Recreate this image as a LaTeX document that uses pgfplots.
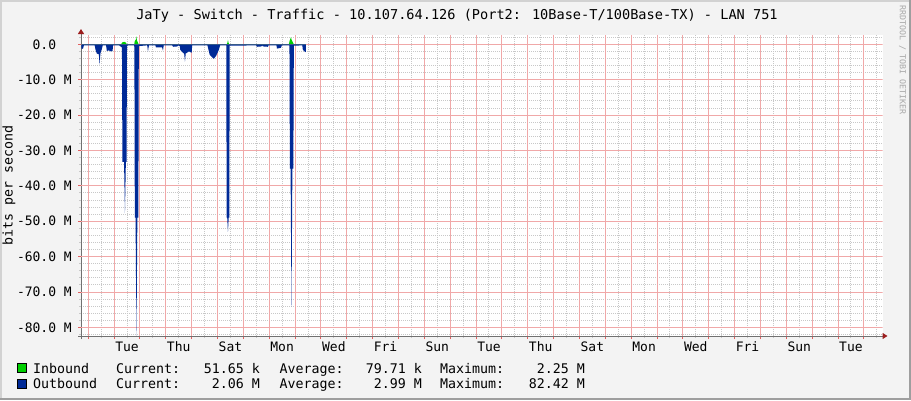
\documentclass[border=0pt]{standalone}
\usepackage{pgfplots}
\pgfplotsset{compat=1.18}
\usepackage{fontspec}
\setmainfont{DejaVu Sans Mono}
\usetikzlibrary{arrows.meta}
\definecolor{bg}{HTML}{F3F3F3}
\definecolor{shadea}{HTML}{D2D2D2}
\definecolor{shadeb}{HTML}{9E9E9E}
\definecolor{mgrid}{HTML}{F0A8A8}
\definecolor{mgridtick}{HTML}{E06060}
\definecolor{mingrid}{HTML}{C8C8C8}
\definecolor{axisgray}{HTML}{707070}
\definecolor{arrowred}{HTML}{9C1E1E}
\definecolor{ingreen}{HTML}{00CF00}
\definecolor{outblue}{HTML}{002A97}
\definecolor{wm}{HTML}{A8A8A8}
\begin{document}
\begin{tikzpicture}[x=1pt,y=1pt]
\fill[bg] (0,0) rectangle (911,400);
\fill[shadea] (0,0) rectangle (2,400);
\fill[shadea] (0,398) rectangle (911,400);
\fill[shadeb] (908.5,0) rectangle (911,400);
\fill[shadeb] (0,0) rectangle (911,2.5);
\begin{axis}[
  at={(81pt,64pt)}, anchor=south west,
  scale only axis, width=801.5pt, height=301pt,
  xmin=-0.28, xmax=30.72, ymin=-82.43, ymax=2.63,
  axis background/.style={fill=white},
  axis x line*=bottom, axis y line*=left,
  axis line style={draw=axisgray, line width=1pt},
  x axis line style={-{Triangle[length=5pt,width=6pt,color=arrowred]}, shorten >=-5pt, shorten <=-3pt},
  y axis line style={-{Triangle[length=5pt,width=6pt,color=arrowred]}, shorten >=-6pt, shorten <=-3pt},
  tick align=outside,
  major tick length=3pt, minor tick length=2pt,
  major tick style={draw=mgridtick, line width=1pt},
  minor tick style={draw=mingrid, line width=1pt},
  xtick={0,1,...,30}, xticklabels={},
  minor xtick={0.5,1.5,...,30.5},
  ytick={-80,-70,...,0},
  yticklabels={-80.0 M,-70.0 M,-60.0 M,-50.0 M,-40.0 M,-30.0 M,-20.0 M,-10.0 M,0.0\phantom{\ M}},
  minor ytick={-82,-78,-76,-74,-72,-68,-66,-64,-62,-58,-56,-54,-52,-48,-46,-44,-42,-38,-36,-34,-32,-28,-26,-24,-22,-18,-16,-14,-12,-8,-6,-4,-2,2},
  extra x ticks={1.5,3.5,...,29.5},
  extra x tick labels={Tue,Thu,Sat,Mon,Wed,Fri,Sun,Tue,Thu,Sat,Mon,Wed,Fri,Sun,Tue},
  extra x tick style={grid=none, major tick length=0pt,
    xticklabel style={anchor=base, inner sep=0pt, yshift=-15pt}},
  yticklabel style={anchor=east, inner sep=0pt, xshift=-6pt},
  tick label style={font=\fontsize{13}{15}\selectfont},
  grid=minor,
  every minor grid/.style={color=mingrid, line width=1pt, dash pattern=on 1pt off 1pt},
]
% major (daily / 10 M) grid lines in red
\pgfplotsinvokeforeach{0,1,...,30}{
  \draw[color=mgrid, line width=1pt] (axis cs:#1,-82.43) -- (axis cs:#1,2.63);
}
\pgfplotsinvokeforeach{-80,-70,...,0}{
  \draw[color=mgrid, line width=1pt] (axis cs:-0.28,#1) -- (axis cs:30.72,#1);
}
\addplot[fill=ingreen, draw=none] coordinates {
(-0.27,0.05) (1.28,0.05) (1.30,0.4) (1.33,0.6) (1.40,0.7) (1.45,0.5) (1.49,0.05)
(1.78,0.05) (1.80,0.9) (1.84,1.3) (1.865,2.25) (1.88,1.2) (1.92,0.5) (1.95,0.05)
(5.36,0.05) (5.39,0.6) (5.404,1.3) (5.42,0.6) (5.45,0.05)
(7.76,0.05) (7.79,1.0) (7.84,2.0) (7.87,1.2) (7.92,0.5) (7.95,0.05) (8.42,0.05)
} \closedcycle;
\addplot[fill=outblue, draw=none] coordinates {
(-0.270,-0.3) (-0.255,-1.3) (-0.200,-1.2) (-0.170,-0.3)
(0.250,-0.3) (0.280,-1.5) (0.330,-2.6) (0.410,-2.8) (0.440,-5.8) (0.470,-2.6) (0.520,-1.5) (0.560,-0.3)
(0.690,-0.3) (0.720,-1.9) (0.800,-1.7) (0.870,-2.0) (0.940,-1.9) (0.960,-0.3)
(1.200,-0.3) (1.280,-0.8) (1.304,-0.8) (1.322,-33.2) (1.385,-33.2) (1.420,-47.7) (1.455,-33.2) (1.480,-33.2) (1.500,-0.5)
(1.530,-0.3) (1.770,-0.3) (1.785,-0.8) (1.802,-49.0) (1.830,-49.0) (1.865,-82.42) (1.900,-49.0) (1.938,-49.0) (1.956,-0.5)
(2.280,-0.3) (2.295,-1.0) (2.310,-2.1) (2.330,-1.0) (2.350,-0.3)
(2.600,-0.3) (2.620,-0.9) (2.860,-0.9) (2.890,-1.8) (2.920,-0.3)
(3.250,-0.3) (3.280,-0.7) (3.450,-0.6) (3.470,-0.3) (3.540,-0.5) (3.560,-1.6) (3.680,-2.5) (3.710,-2.6) (3.741,-4.9) (3.770,-2.6) (3.900,-2.0) (4.000,-2.4) (4.020,-0.3)
(4.610,-0.3) (4.640,-1.2) (4.700,-3.0) (4.780,-3.6) (4.860,-4.1) (4.950,-3.2) (5.050,-1.6) (5.100,-0.3)
(5.338,-0.3) (5.355,-49.0) (5.375,-49.0) (5.404,-53.0) (5.433,-49.0) (5.455,-49.0) (5.472,-0.4)
(6.500,-0.3) (6.520,-0.7) (6.700,-0.6) (6.720,-0.3) (6.760,-0.6) (6.950,-0.7) (6.970,-0.3)
(7.280,-0.3) (7.300,-1.2) (7.450,-1.0) (7.490,-0.3)
(7.783,-0.3) (7.800,-35.1) (7.826,-35.1) (7.861,-74.2) (7.896,-35.1) (7.933,-35.1) (7.952,-0.4)
(8.280,-0.3) (8.300,-1.5) (8.360,-2.0) (8.420,-2.2)
} \closedcycle;
\end{axis}
% title, labels, watermark
\node[anchor=base, inner sep=0pt, font=\fontsize{13.6}{16}\selectfont] at (457,380.7)
  {JaTy - Switch - Traffic - 10.107.64.126 (Port2: 10Base-T/100Base-TX) - LAN 751};
\node[rotate=90, anchor=base, inner sep=0pt, font=\fontsize{13.3}{15}\selectfont] at (12.5,214.5) {bits per second};
\node[rotate=-90, inner sep=0pt, text=wm, font=\fontsize{8.3}{9}\selectfont] at (902.5,340) {RRDTOOL / TOBI OETIKER};
% legend
\draw[fill=ingreen, draw=black, line width=0.8pt] (17.4,27.4) rectangle (26.6,36.6);
\draw[fill=outblue, draw=black, line width=0.8pt] (17.4,11.4) rectangle (26.6,20.6);
\begin{scope}[every node/.style={inner sep=0pt, font=\fontsize{13.3}{15}\selectfont}]
\node[anchor=base west] at (33,27) {Inbound};
\node[anchor=base west] at (116,27) {Current:};
\node[anchor=base east] at (260,27) {51.65 k};
\node[anchor=base west] at (279.5,27) {Average:};
\node[anchor=base east] at (422,27) {79.71 k};
\node[anchor=base west] at (440,27) {Maximum:};
\node[anchor=base east] at (585,27) {2.25 M};
\node[anchor=base west] at (33,11.7) {Outbound};
\node[anchor=base west] at (116,11.7) {Current:};
\node[anchor=base east] at (260,11.7) {2.06 M};
\node[anchor=base west] at (279.5,11.7) {Average:};
\node[anchor=base east] at (422,11.7) {2.99 M};
\node[anchor=base west] at (440,11.7) {Maximum:};
\node[anchor=base east] at (585,11.7) {82.42 M};
\end{scope}
\pgfresetboundingbox
\path[use as bounding box] (0,0) rectangle (911,400);
\end{tikzpicture}
\end{document}
